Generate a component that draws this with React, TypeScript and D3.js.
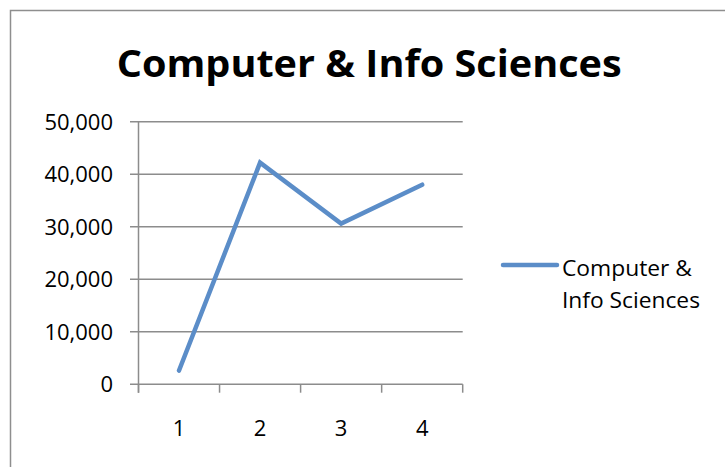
import React from "react";
import * as d3 from "d3";

const categories = ["1", "2", "3", "4"];
const values = [2600, 42200, 30600, 38000];
const yTicks = [0, 10000, 20000, 30000, 40000, 50000];
const title = "Computer & Info Sciences";
const legendLines = ["Computer &", "Info Sciences"];

const W = 725;
const H = 467;
const left = 138.5;
const right = 462.7;
const top = 121.7;
const bottom = 384.2;
const font = "'Open Sans', 'Liberation Sans', sans-serif";
const lineColor = "#5B8DC8";
const gridColor = "#8C8C8C";

export default function App() {
  const x = d3.scaleBand<string>().domain(categories).range([left, right]);
  const y = d3.scaleLinear().domain([0, 50000]).range([bottom, top]);
  const fmt = d3.format(",");
  const line = d3
    .line<number>()
    .x((_, i) => (x(categories[i]) as number) + x.bandwidth() / 2)
    .y((d) => y(d));
  const boundaries = categories.map((c) => x(c) as number).concat([right]);

  return (
    <svg
      width={W}
      height={H}
      style={{ position: "absolute", left: 0, top: 0, background: "#fff" }}
    >
      <rect x={0} y={0} width={W} height={H} fill="#fff" />
      <rect
        x={10.5}
        y={10.5}
        width={900}
        height={900}
        fill="none"
        stroke="#8E8E8E"
        strokeWidth={1.5}
      />
      <text
        x={116.7}
        y={76.7}
        fontFamily={font}
        fontWeight="bold"
        fontSize={38}
        textLength={505}
        lengthAdjust="spacingAndGlyphs"
        fill="#000"
      >
        {title}
      </text>
      {/* gridlines and y ticks */}
      {yTicks.map((t) => (
        <g key={t}>
          <line
            x1={130}
            x2={t === 0 ? right : right}
            y1={y(t)}
            y2={y(t)}
            stroke={gridColor}
            strokeWidth={1.5}
          />
          <text
            x={113}
            y={y(t) + 8}
            textAnchor="end"
            fontFamily={font}
            fontSize={22}
            fill="#000"
          >
            {fmt(t)}
          </text>
        </g>
      ))}
      {/* y axis */}
      <line x1={left} x2={left} y1={top} y2={bottom + 8.5} stroke={gridColor} strokeWidth={1.5} />
      {/* x ticks */}
      {boundaries.map((b, i) => (
        <line key={i} x1={b} x2={b} y1={bottom} y2={bottom + 8.5} stroke={gridColor} strokeWidth={1.5} />
      ))}
      {categories.map((c) => (
        <text
          key={c}
          x={(x(c) as number) + x.bandwidth() / 2}
          y={436}
          textAnchor="middle"
          fontFamily={font}
          fontSize={22}
          fill="#000"
        >
          {c}
        </text>
      ))}
      <path
        d={line(values) || ""}
        fill="none"
        stroke={lineColor}
        strokeWidth={4.5}
        strokeLinecap="round"
        strokeLinejoin="miter"
      />
      {/* legend */}
      <line x1={503} x2={557} y1={265} y2={265} stroke={lineColor} strokeWidth={4.5} strokeLinecap="round" />
      {legendLines.map((l, i) => (
        <text
          key={l}
          x={562}
          y={276 + i * 32}
          fontFamily={font}
          fontSize={21}
          textLength={i === 0 ? 130 : 138}
          lengthAdjust="spacingAndGlyphs"
          fill="#000"
        >
          {l}
        </text>
      ))}
    </svg>
  );
}
